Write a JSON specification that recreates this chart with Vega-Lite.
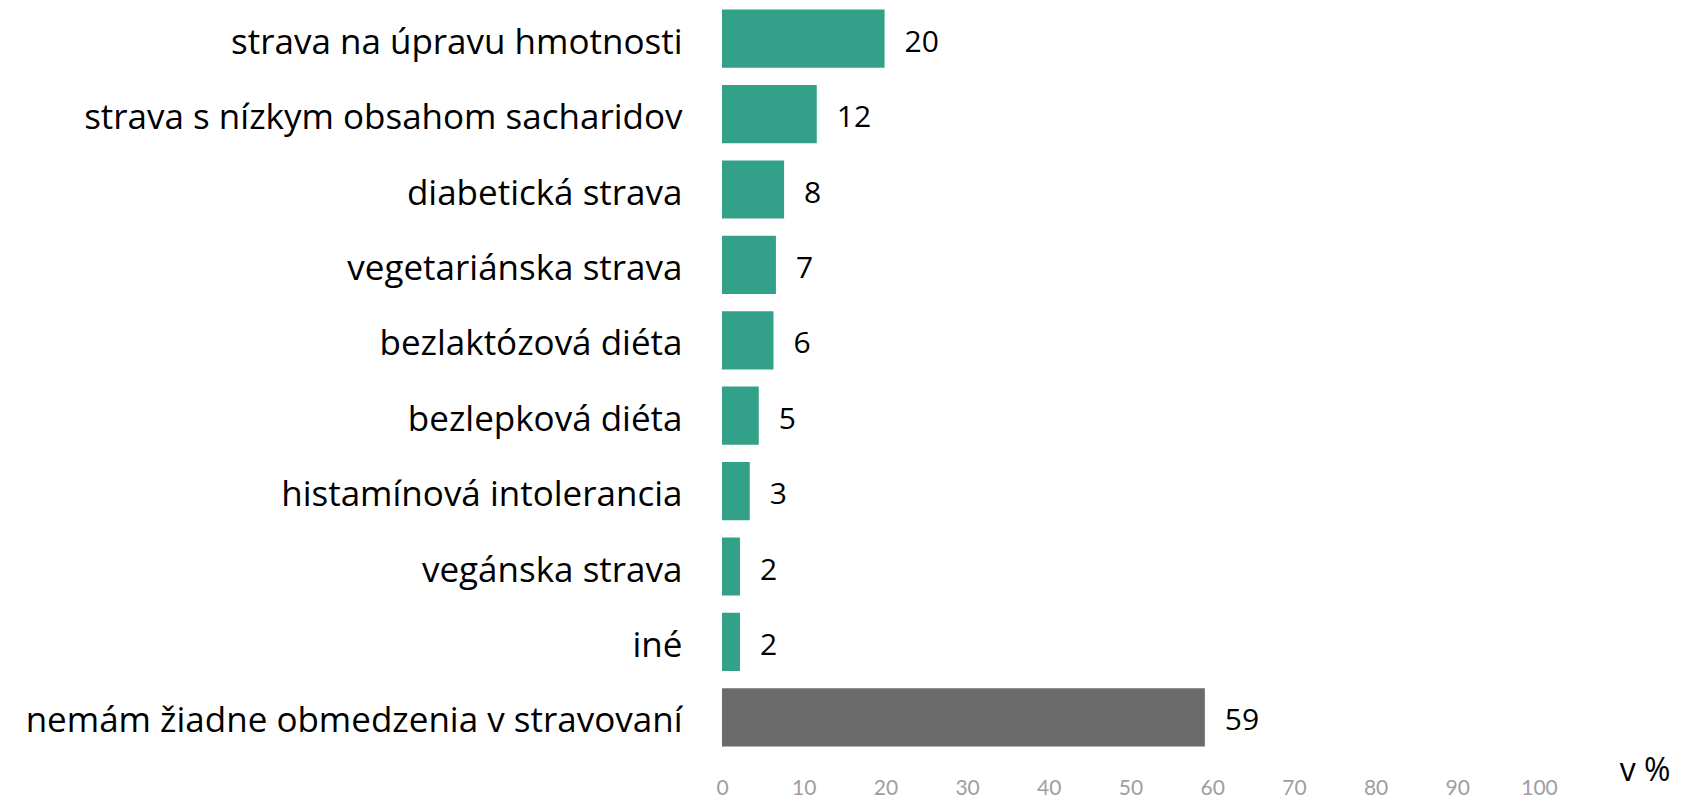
{
  "$schema": "https://vega.github.io/schema/vega-lite/v6.json",
  "width": 817,
  "height": 754,
  "autosize": {"type": "none"},
  "padding": {"left": 722, "top": 1, "right": 150, "bottom": 42},
  "background": "white",
  "config": {"view": {"stroke": null}, "font": "Open Sans"},
  "data": {"values": [
    {"category": "strava na úpravu hmotnosti", "value": 19.9, "label": "20", "group": "diet"},
    {"category": "strava s nízkym obsahom sacharidov", "value": 11.6, "label": "12", "group": "diet"},
    {"category": "diabetická strava", "value": 7.6, "label": "8", "group": "diet"},
    {"category": "vegetariánska strava", "value": 6.6, "label": "7", "group": "diet"},
    {"category": "bezlaktózová diéta", "value": 6.3, "label": "6", "group": "diet"},
    {"category": "bezlepková diéta", "value": 4.5, "label": "5", "group": "diet"},
    {"category": "histamínová intolerancia", "value": 3.4, "label": "3", "group": "diet"},
    {"category": "vegánska strava", "value": 2.2, "label": "2", "group": "diet"},
    {"category": "iné", "value": 2.2, "label": "2", "group": "diet"},
    {"category": "nemám žiadne obmedzenia v stravovaní", "value": 59.1, "label": "59", "group": "none"}
  ]},
  "encoding": {
    "y": {
      "field": "category", "type": "nominal", "sort": null,
      "scale": {"paddingInner": 0.228, "paddingOuter": 0.114},
      "axis": {"title": null, "domain": false, "ticks": false, "labelPadding": 40, "labelOffset": 4, "labelFontSize": 35, "labelColor": "#000000", "labelFont": "Open Sans", "labelLimit": 800}
    },
    "x": {
      "field": "value", "type": "quantitative",
      "scale": {"domain": [0, 100], "nice": false},
      "axis": {
        "values": [0, 10, 20, 30, 40, 50, 60, 70, 80, 90, 100],
        "grid": false, "domain": false, "ticks": false, "labelFlush": false,
        "labelPadding": 22, "labelFontSize": 21, "labelColor": "#9e9e9e", "labelFont": "Lato",
        "title": "v %", "titleFontSize": 32, "titleFontWeight": "normal", "titleColor": "#000000", "titleFont": "Open Sans",
        "titleAnchor": "end", "titleAlign": "right", "titleBaseline": "top",
        "titleX": 948, "titleY": 0
      }
    }
  },
  "layer": [
    {
      "mark": {"type": "bar"},
      "encoding": {
        "color": {
          "field": "group", "type": "nominal",
          "scale": {"domain": ["diet", "none"], "range": ["#33a189", "#6b6b6b"]},
          "legend": null
        }
      }
    },
    {
      "mark": {"type": "text", "align": "left", "baseline": "middle", "dx": 20, "dy": 4, "fontSize": 30, "color": "#000000", "font": "Open Sans"},
      "encoding": {"text": {"field": "label"}}
    }
  ]
}
